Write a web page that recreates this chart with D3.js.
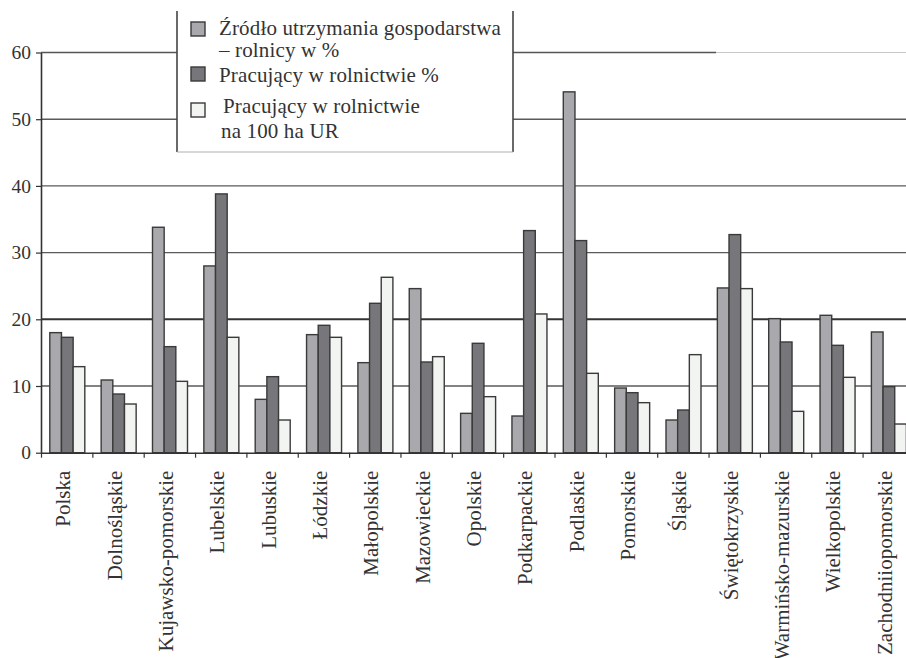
<!DOCTYPE html>
<html>
<head>
<meta charset="utf-8">
<script src="https://cdn.jsdelivr.net/npm/d3@7"></script>
<style>
  body { margin: 0; background: #fff; }
  svg { display: block; }
  svg text { font-family: "Liberation Serif", "DejaVu Serif", "Times New Roman", Times, serif; }
</style>
</head>
<body>
<svg id="chart" width="906" height="658"></svg>
<script>
// data
const regions = ["Polska", "Dolnośląskie", "Kujawsko-pomorskie", "Lubelskie", "Lubuskie", "Łódzkie",
  "Małopolskie", "Mazowieckie", "Opolskie", "Podkarpackie", "Podlaskie", "Pomorskie", "Śląskie",
  "Świętokrzyskie", "Warmińsko-mazurskie", "Wielkopolskie", "Zachodniiopomorskie"];
const zrodloUtrzymania = [18.0, 10.9, 33.8, 28.0, 8.0, 17.7, 13.5, 24.6, 5.9, 5.5, 54.1, 9.7, 4.9, 24.7, 20.1, 20.6, 18.1];
const pracujacyProc = [17.3, 8.8, 15.9, 38.8, 11.4, 19.1, 22.4, 13.6, 16.4, 33.3, 31.8, 9.0, 6.4, 32.7, 16.6, 16.1, 9.9];
const pracujacyNa100ha = [12.9, 7.3, 10.7, 17.3, 4.9, 17.3, 26.3, 14.4, 8.4, 20.8, 11.9, 7.5, 14.7, 24.6, 6.2, 11.3, 4.3];
const yTicks = [0, 10, 20, 30, 40, 50, 60];
const seriesKeys = ["zrodlo", "procent", "na100"];
const legendLabels = [
  ["Źródło utrzymania gospodarstwa", "– rolnicy w %"],
  ["Pracujący w rolnictwie %"],
  ["Pracujący w rolnictwie", "na 100 ha UR"]
];

const colors = ["#a9a9ad", "#77777b", "#f2f4f2"];
const ink = "#333";
const serif = "'Liberation Serif', 'DejaVu Serif', 'Times New Roman', Times, serif";

const svg = d3.select("#chart");

const left = 41, catW = 51.35;
const x = d3.scaleBand().domain(regions).range([left, left + catW * regions.length]).padding(0);
const xSub = d3.scaleBand().domain(seriesKeys).range([8.8, 43.8]).padding(0);
const y = d3.scaleLinear().domain([0, 60]).range([452.7, 52.5]);

const table = regions.map((r, i) => ({
  region: r,
  zrodlo: zrodloUtrzymania[i],
  procent: pracujacyProc[i],
  na100: pracujacyNa100ha[i]
}));

// gridlines
const grid = svg.append("g");
yTicks.filter(t => t > 0).forEach(t => {
  if (t === 60) {
    grid.append("line").attr("x1", left).attr("x2", 716).attr("y1", y(t)).attr("y2", y(t))
      .attr("stroke", "#555").attr("stroke-width", 1.5);
    grid.append("line").attr("x1", 716).attr("x2", 906).attr("y1", y(t)).attr("y2", y(t))
      .attr("stroke", "#c8c8c8").attr("stroke-width", 1.2);
  } else {
    grid.append("line").attr("x1", left).attr("x2", 906).attr("y1", y(t)).attr("y2", y(t))
      .attr("stroke", t === 20 ? "#333" : "#5a5a5a")
      .attr("stroke-width", t === 20 ? 2 : 1.4);
  }
});

// bars
svg.append("g").selectAll("g")
  .data(table)
  .join("g")
  .attr("transform", d => `translate(${x(d.region)},0)`)
  .selectAll("rect")
  .data(d => seriesKeys.map((k, i) => ({ key: k, value: d[k], i })))
  .join("rect")
  .attr("x", d => xSub(d.key))
  .attr("width", xSub.bandwidth())
  .attr("y", d => y(d.value))
  .attr("height", d => y(0) - y(d.value))
  .attr("fill", d => colors[d.i])
  .attr("stroke", "#3a3a3a")
  .attr("stroke-width", 1.4);

// y axis
const yAxis = svg.append("g")
  .attr("transform", `translate(${left},0)`)
  .call(d3.axisLeft(y).tickValues(yTicks).tickSize(5).tickPadding(5).tickSizeOuter(0));
yAxis.attr("font-family", serif);
yAxis.select(".domain").attr("stroke", ink).attr("stroke-width", 1.6);
yAxis.selectAll(".tick line").attr("stroke", ink).attr("stroke-width", 1.2);
yAxis.selectAll(".tick text")
  .attr("font-size", 19.5).attr("fill", ink);

// x axis: boundary ticks
const xIdx = d3.scaleLinear().domain([0, regions.length]).range(x.range());
const xAxis = svg.append("g")
  .attr("transform", `translate(0,${y(0)})`)
  .call(d3.axisBottom(xIdx).tickValues(d3.range(regions.length + 1)).tickSize(5).tickFormat("").tickSizeOuter(0));
xAxis.select(".domain").attr("stroke", ink).attr("stroke-width", 1.6);
xAxis.selectAll(".tick line").attr("stroke", ink).attr("stroke-width", 1.2);

// x labels
const xLab = svg.append("g")
  .attr("transform", `translate(0,${y(0)})`)
  .call(d3.axisBottom(x).tickSize(0).tickSizeOuter(0));
xLab.attr("font-family", serif);
xLab.select(".domain").remove();
xLab.selectAll(".tick text")
  .attr("font-size", 21).attr("fill", ink)
  .attr("text-anchor", "end")
  .attr("transform", "translate(3.5,18) rotate(-90)")
  .attr("x", 0).attr("y", 0).attr("dy", 0);

// legend
const lg = svg.append("g").attr("font-family", serif);
lg.append("rect").attr("x", 177).attr("y", -5).attr("width", 336).attr("height", 157)
  .attr("fill", "#fff").attr("stroke", "none");
lg.append("line").attr("x1", 177).attr("x2", 177).attr("y1", 11).attr("y2", 152)
  .attr("stroke", "#444").attr("stroke-width", 1.6);
lg.append("line").attr("x1", 513).attr("x2", 513).attr("y1", 11).attr("y2", 152)
  .attr("stroke", "#444").attr("stroke-width", 1.6);
lg.append("line").attr("x1", 177).attr("x2", 513).attr("y1", 152).attr("y2", 152)
  .attr("stroke", "#b0b0b0").attr("stroke-width", 1.2);

const swatchY = [22, 67, 103];
const textBase = [[35, 57], [81.5], [113, 138]];
const textX = [[219, 219], [219], [223, 221]];
legendLabels.forEach((lines, i) => {
  lg.append("rect").attr("x", 191).attr("y", swatchY[i]).attr("width", 14).attr("height", 14)
    .attr("fill", colors[i]).attr("stroke", "#3a3a3a").attr("stroke-width", 1.4);
  lines.forEach((t, j) => {
    lg.append("text").attr("x", textX[i][j]).attr("y", textBase[i][j])
      .attr("font-size", 21).attr("letter-spacing", 0.15).attr("fill", ink).text(t);
  });
});
</script>
</body>
</html>
